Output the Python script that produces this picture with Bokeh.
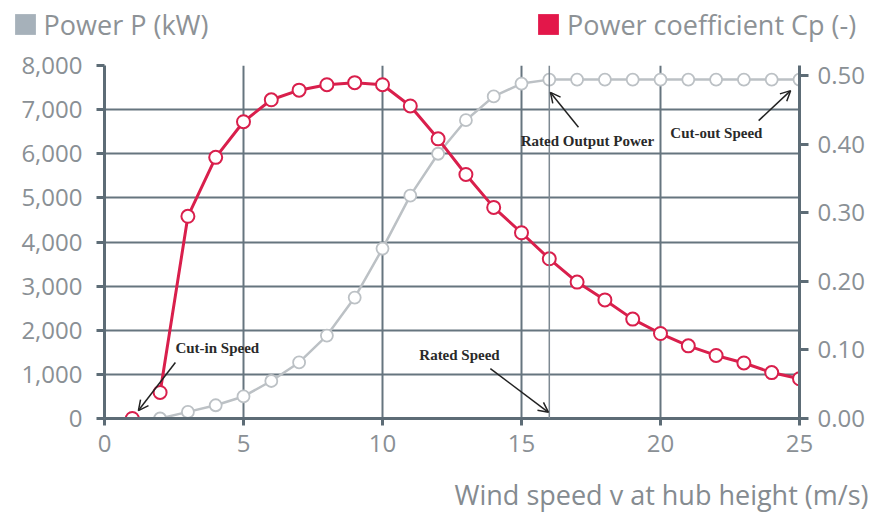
from bokeh.plotting import figure
from bokeh.models import (Range1d, LinearAxis, NumeralTickFormatter, FixedTicker,
                          Legend, LegendItem, Label, Arrow, OpenHead, Span)
from bokeh.embed import file_html
from bokeh.resources import INLINE

# ---------------- data ----------------
wind_power = [2, 3, 4, 5, 6, 7, 8, 9, 10, 11, 12, 13, 14, 15, 16, 17, 18, 19, 20, 21, 22, 23, 24, 25]
power_kw = [0, 150, 300, 500, 850, 1270, 1880, 2740, 3850, 5050, 6000, 6760, 7300, 7590,
            7680, 7680, 7680, 7680, 7680, 7680, 7680, 7680, 7680, 7680]

wind_cp = [1, 2, 3, 4, 5, 6, 7, 8, 9, 10, 11, 12, 13, 14, 15, 16, 17, 18, 19, 20, 21, 22, 23, 24, 25]
cp = [0.0, 0.038, 0.295, 0.381, 0.433, 0.465, 0.479, 0.487, 0.490, 0.487, 0.456, 0.408, 0.356,
      0.308, 0.271, 0.233, 0.199, 0.173, 0.145, 0.124, 0.106, 0.092, 0.081, 0.067, 0.058]

x_ticks = [0, 5, 10, 15, 20, 25]
p_ticks = [0, 1000, 2000, 3000, 4000, 5000, 6000, 7000, 8000]
cp_ticks = [0.0, 0.1, 0.2, 0.3, 0.4, 0.5]
rated_speed = 16

legend_power = "Power P (kW)"
legend_cp = "Power coefficient Cp (-)"
x_title = "Wind speed v at hub height (m/s)"

annotations = [
    # text, text x, text y, arrow tail x, y, arrow head x, y, align  (data units of the kW axis)
    ("Cut-in Speed", 2.55, 1590, 2.55, 1270, 1.22, 180, "left"),
    ("Rated Speed", 12.77, 1430, 13.88, 1130, 15.97, 140, "center"),
    ("Rated Output Power", 17.37, 6280, 17.05, 6600, 16.04, 7390, "center"),
    ("Cut-out Speed", 22.01, 6480, 23.53, 6750, 24.68, 7430, "center"),
]

# ---------------- style ----------------
W = 872
FONT = "Open Sans"
GRID = "#66757f"
AXIS = "#5d6c76"
TICKTXT = "#8a9095"
GRAYLINE = "#bcc1c5"
RED = "#d91f4c"

# ---------------- header with the two legend keys ----------------
HDR_H = 44
hdr = figure(width=W, height=HDR_H, output_backend="svg", toolbar_location=None,
             x_range=Range1d(0, 1), y_range=Range1d(0, 1),
             x_axis_location=None, y_axis_location=None, min_border=0)
hdr.grid.visible = False
hdr.outline_line_color = None

# key swatches only (renderers hidden; the legend draws their colour)
r_lp = hdr.quad(left=[0], right=[1], top=[1], bottom=[0], fill_color="#a6b1ba",
                line_color=None, visible=False)
r_lc = hdr.quad(left=[0], right=[1], top=[1], bottom=[0], fill_color="#e3174a",
                line_color=None, visible=False)

for rend, lab, vx in [(r_lp, legend_power, 11.6), (r_lc, legend_cp, 535)]:
    lg = Legend(items=[LegendItem(label=lab, renderers=[rend])], location=(vx, 1.5),
                glyph_width=26, glyph_height=26, label_standoff=6, padding=0, margin=0,
                spacing=0, border_line_color=None, background_fill_alpha=0,
                inactive_fill_alpha=0,
                label_text_font=FONT, label_text_font_size="27px",
                label_text_color="#8d9296", label_height=26)
    hdr.add_layout(lg, "center")

# ---------------- main chart ----------------
MAIN_H = 426
p = figure(width=W, height=MAIN_H, output_backend="svg", toolbar_location=None,
           x_range=Range1d(0, 25), y_range=Range1d(0, 8000),
           min_border_left=104, min_border_right=W - 799, min_border_top=21, min_border_bottom=52)
p.outline_line_color = None

p.extra_y_ranges = {"cp": Range1d(0, 0.515)}

p.xaxis.ticker = FixedTicker(ticks=x_ticks)
p.yaxis.ticker = FixedTicker(ticks=p_ticks)
p.yaxis.formatter = NumeralTickFormatter(format="0,0")

right = LinearAxis(y_range_name="cp", ticker=FixedTicker(ticks=cp_ticks),
                   formatter=NumeralTickFormatter(format="0.00"))
p.add_layout(right, "right")

for ax in [p.xaxis[0], p.yaxis[0], right]:
    ax.axis_line_color = AXIS
    ax.axis_line_width = 3
    ax.major_tick_line_color = AXIS
    ax.major_tick_line_width = 3
    ax.major_tick_in = 0
    ax.minor_tick_line_color = None
    ax.major_label_text_font = FONT
    ax.major_label_text_font_size = "24px"
    ax.major_label_text_color = TICKTXT

p.xaxis.major_tick_out = 7
p.xaxis.major_label_standoff = 9
p.yaxis[0].major_tick_out = 8
p.yaxis[0].major_label_standoff = 14
right.major_tick_out = 9
right.major_label_standoff = 9

p.xgrid.ticker = FixedTicker(ticks=x_ticks)
p.ygrid.ticker = FixedTicker(ticks=p_ticks)
p.xgrid.grid_line_color = GRID
p.ygrid.grid_line_color = GRID
p.xgrid.grid_line_width = 2
p.ygrid.grid_line_width = 2

p.add_layout(Span(location=rated_speed, dimension="height", line_color="#7d8992", line_width=1.5))

# power curve
p.line(wind_power, power_kw, line_color=GRAYLINE, line_width=2.5)
p.scatter(wind_power, power_kw, size=12, marker="circle", fill_color="white",
          line_color=GRAYLINE, line_width=1.8)

# Cp curve
p.line(wind_cp[1:], cp[1:], y_range_name="cp", line_color=RED, line_width=3)
p.scatter(wind_cp, cp, y_range_name="cp", size=13, marker="circle", fill_color="white",
          line_color=RED, line_width=2)

# annotations
for txt, tx, ty, ax0, ay0, ax1, ay1, al in annotations:
    p.add_layout(Label(x=tx, y=ty, text=txt, text_align=al, text_baseline="middle",
                       text_font="Liberation Serif", text_font_style="bold",
                       text_font_size="15px", text_color="#2a2a2a"))
    p.add_layout(Arrow(x_start=ax0, y_start=ay0, x_end=ax1, y_end=ay1,
                       line_color="#222222", line_width=1.5,
                       end=OpenHead(size=10, line_color="#222222", line_width=1.5)))

# ---------------- footer with the x-axis title ----------------
FTR_H = 44
ftr = figure(width=W, height=FTR_H, output_backend="svg", toolbar_location=None,
             x_range=Range1d(0, W), y_range=Range1d(0, FTR_H),
             x_axis_location=None, y_axis_location=None, min_border=0)
ftr.grid.visible = False
ftr.outline_line_color = None
ftr.add_layout(Label(x=868, y=20, text=x_title, text_align="right", text_baseline="middle",
                     text_font=FONT, text_font_size="27px", text_color="#858b90"))

open("out.html", "w").write(file_html([hdr, p, ftr], INLINE))
